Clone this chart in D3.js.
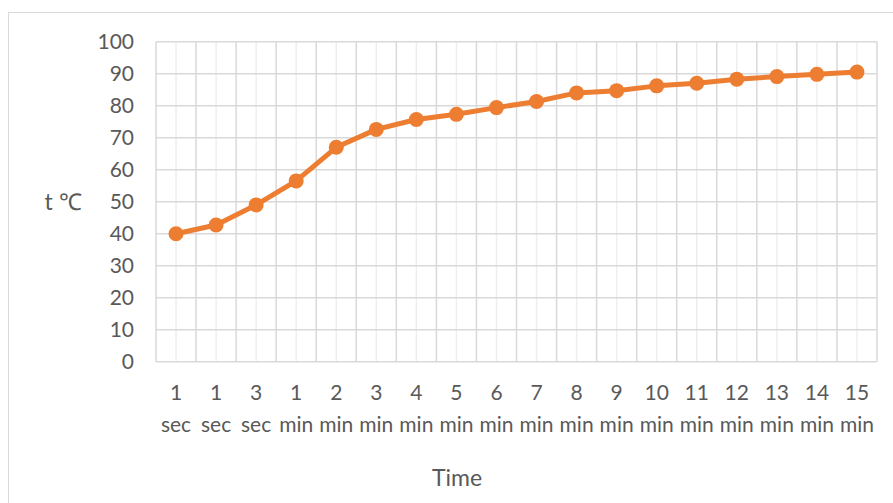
<!DOCTYPE html>
<html>
<head>
<meta charset="utf-8">
<script src="https://cdn.jsdelivr.net/npm/d3@7"></script>
<style>
  html, body { margin: 0; padding: 0; background: #fff; }
  svg { display: block; }
  text { font-family: Lato, "Liberation Sans", sans-serif; fill: #595959; }
</style>
</head>
<body>
<svg id="chart" width="893" height="503"></svg>
<script>
// Elapsed-time categories (number + unit) and measured temperatures
const timeNumbers = ["1", "1", "3", "1", "2", "3", "4", "5", "6", "7", "8", "9", "10", "11", "12", "13", "14", "15"];
const timeUnits = ["sec", "sec", "sec", "min", "min", "min", "min", "min", "min", "min", "min", "min", "min", "min", "min", "min", "min", "min"];
const temperatures = [40, 42.7, 49, 56.5, 67, 72.6, 75.7, 77.3, 79.4, 81.3, 84, 84.7, 86.2, 87, 88.3, 89.1, 89.8, 90.5];
const yTicks = [0, 10, 20, 30, 40, 50, 60, 70, 80, 90, 100];
const xTitle = "Time";
const yTitle = "t \u2103";

const svg = d3.select("#chart");
const W = 893, H = 503;
const plot = { left: 156, right: 877, top: 41.7, bottom: 361.7 };

// chart area outline
svg.append("rect")
  .attr("x", 8.5).attr("y", 12.5)
  .attr("width", W + 10).attr("height", H + 10)
  .attr("fill", "#fff").attr("stroke", "#d9d9d9").attr("stroke-width", 1);

const idx = d3.range(temperatures.length);
const x = d3.scaleBand().domain(idx).range([plot.left, plot.right]).padding(0);
const y = d3.scaleLinear().domain([0, 100]).range([plot.bottom, plot.top]);

const grid = svg.append("g");
// minor vertical gridlines at category centres
grid.selectAll("line.minor").data(idx).join("line")
  .attr("class", "minor")
  .attr("x1", d => x(d) + x.bandwidth() / 2).attr("x2", d => x(d) + x.bandwidth() / 2)
  .attr("y1", plot.top).attr("y2", plot.bottom)
  .attr("stroke", "#ededed").attr("stroke-width", 1.4);
// major vertical gridlines at category boundaries
grid.selectAll("line.major").data(d3.range(temperatures.length + 1)).join("line")
  .attr("class", "major")
  .attr("x1", d => d < temperatures.length ? x(d) : plot.right)
  .attr("x2", d => d < temperatures.length ? x(d) : plot.right)
  .attr("y1", plot.top).attr("y2", plot.bottom)
  .attr("stroke", "#d9d9d9").attr("stroke-width", 1.5);
// horizontal gridlines
grid.selectAll("line.h").data(yTicks).join("line")
  .attr("class", "h")
  .attr("x1", plot.left).attr("x2", plot.right)
  .attr("y1", d => y(d)).attr("y2", d => y(d))
  .attr("stroke", "#d9d9d9").attr("stroke-width", 1.5);

// y axis labels
const yAxis = svg.append("g")
  .attr("transform", `translate(${plot.left - 22},0)`)
  .call(d3.axisLeft(y).tickValues(yTicks).tickSize(0).tickPadding(0));
yAxis.select(".domain").remove();
yAxis.selectAll("text").style("font-size", "21px").attr("fill", "#595959")
  .style("font-family", "Lato, sans-serif");

// x axis labels (two lines: number and unit)
const xAxis = svg.append("g")
  .attr("transform", `translate(0,${plot.bottom})`)
  .call(d3.axisBottom(x).tickSize(0).tickFormat(""));
xAxis.select(".domain").remove();
xAxis.selectAll(".tick").each(function (d) {
  const t = d3.select(this).append("text")
    .attr("text-anchor", "middle")
    .style("font-size", "21px")
    .attr("fill", "#595959");
  t.append("tspan").attr("x", 0).attr("y", 38).text(timeNumbers[d]);
  t.append("tspan").attr("x", 0).attr("y", 70).text(timeUnits[d]);
});

// axis titles
svg.append("text").attr("x", 457).attr("y", 486)
  .attr("text-anchor", "middle").style("font-size", "23px").text(xTitle);
svg.append("text").attr("x", 63).attr("y", 210)
  .attr("text-anchor", "middle").style("font-size", "23px").text(yTitle);

// temperature series
const line = d3.line()
  .x((d, i) => x(i) + x.bandwidth() / 2)
  .y(d => y(d));
svg.append("path").datum(temperatures)
  .attr("d", line)
  .attr("fill", "none").attr("stroke", "#ED7D31")
  .attr("stroke-width", 5).attr("stroke-linejoin", "round");
svg.selectAll("circle.pt").data(temperatures).join("circle")
  .attr("class", "pt")
  .attr("cx", (d, i) => x(i) + x.bandwidth() / 2)
  .attr("cy", d => y(d))
  .attr("r", 7.5)
  .attr("fill", "#ED7D31");
</script>
</body>
</html>
